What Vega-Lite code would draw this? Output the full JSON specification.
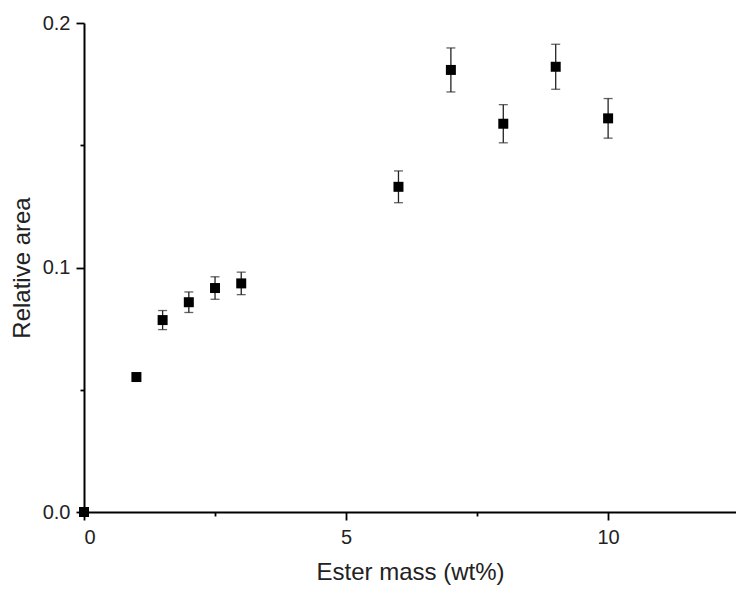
{
  "$schema": "https://vega.github.io/schema/vega-lite/v6.json",
  "width": 652,
  "height": 489,
  "autosize": {"type": "none"},
  "padding": {"left": 84, "top": 23, "right": 0, "bottom": 77},
  "background": "white",
  "config": {
    "view": {"stroke": null},
    "font": "Liberation Sans",
    "axis": {
      "domainColor": "black",
      "domainWidth": 2,
      "tickColor": "black",
      "tickWidth": 1.8,
      "labelColor": "#222",
      "titleColor": "#222",
      "labelFont": "Liberation Sans",
      "titleFont": "Liberation Sans",
      "labelFontSize": 20,
      "titleFontSize": 24,
      "titleFontWeight": "normal",
      "grid": false
    }
  },
  "data": {
    "values": [
      {"x": 0, "y": 0.0, "lo": 0.0, "hi": 0.0},
      {"x": 1, "y": 0.0552, "lo": 0.0538, "hi": 0.0566},
      {"x": 1.5, "y": 0.0785, "lo": 0.0746, "hi": 0.0824},
      {"x": 2, "y": 0.0858, "lo": 0.0816, "hi": 0.0900},
      {"x": 2.5, "y": 0.0916, "lo": 0.0870, "hi": 0.0962},
      {"x": 3, "y": 0.0935, "lo": 0.0889, "hi": 0.0981},
      {"x": 6, "y": 0.1330, "lo": 0.1265, "hi": 0.1395},
      {"x": 7, "y": 0.1808, "lo": 0.1718, "hi": 0.1898},
      {"x": 8, "y": 0.1588, "lo": 0.1510, "hi": 0.1666},
      {"x": 9, "y": 0.1821, "lo": 0.1729, "hi": 0.1913},
      {"x": 10, "y": 0.1610, "lo": 0.1529, "hi": 0.1691}
    ]
  },
  "layer": [
    {
      "mark": {"type": "rule", "color": "#222", "strokeWidth": 1.3},
      "encoding": {
        "x": {
          "field": "x", "type": "quantitative",
          "scale": {"domain": [0, 12.44], "nice": false, "zero": false},
          "axis": {
            "title": "Ester mass (wt%)",
            "values": [0, 2.5, 5, 7.5, 10],
            "labelExpr": "datum.value % 5 == 0 ? format(datum.value, 'd') : ''",
            "tickSize": {"condition": {"test": "datum.value % 5 == 0", "value": 8}, "value": 4},
            "labelPadding": 7,
            "titlePadding": 13
          }
        },
        "y": {
          "field": "lo", "type": "quantitative",
          "scale": {"domain": [0, 0.2], "nice": false},
          "axis": {
            "title": "Relative area",
            "values": [0, 0.05, 0.1, 0.15, 0.2],
            "labelExpr": "abs(datum.value*10 - round(datum.value*10)) < 0.001 ? format(datum.value, '.1f') : ''",
            "tickSize": {"condition": {"test": "abs(datum.value*10 - round(datum.value*10)) < 0.001", "value": 8}, "value": 4},
            "labelPadding": 6,
            "titlePadding": 8
          }
        },
        "y2": {"field": "hi"}
      }
    },
    {
      "mark": {"type": "tick", "orient": "horizontal", "color": "#222", "size": 9, "thickness": 1.3},
      "encoding": {
        "x": {"field": "x", "type": "quantitative"},
        "y": {"field": "lo", "type": "quantitative"}
      }
    },
    {
      "mark": {"type": "tick", "orient": "horizontal", "color": "#222", "size": 9, "thickness": 1.3},
      "encoding": {
        "x": {"field": "x", "type": "quantitative"},
        "y": {"field": "hi", "type": "quantitative"}
      }
    },
    {
      "mark": {"type": "point", "shape": "square", "filled": true, "color": "black", "opacity": 1, "size": 100},
      "encoding": {
        "x": {"field": "x", "type": "quantitative"},
        "y": {"field": "y", "type": "quantitative"}
      }
    }
  ]
}
